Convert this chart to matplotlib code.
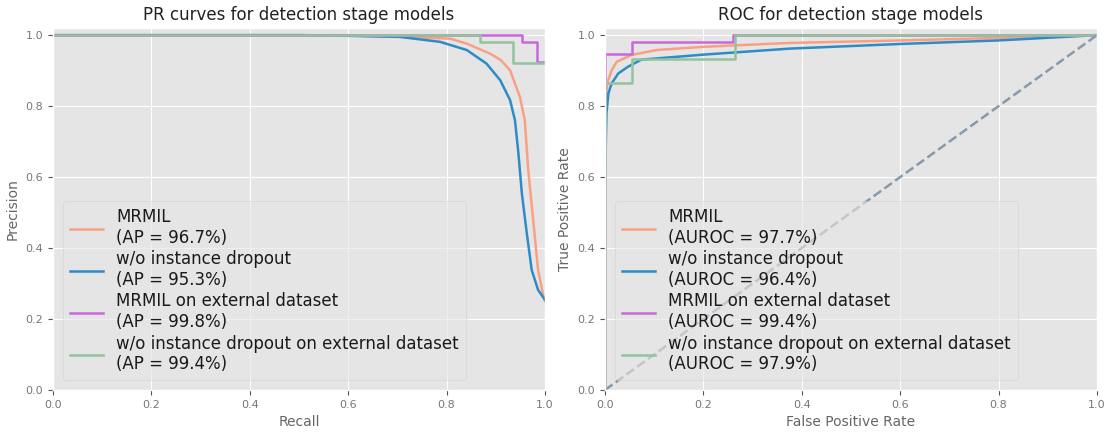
import matplotlib
matplotlib.use('Agg')
import matplotlib.pyplot as plt

# PR curve points (recall, precision)
pr_mrmil_r = [0.0, 0.5, 0.6, 0.7, 0.807, 0.841, 0.888, 0.91, 0.929, 0.949, 0.959, 0.966, 0.976, 0.986, 0.997, 1.0]
pr_mrmil_p = [1.0, 1.0, 0.999, 0.996, 0.99, 0.976, 0.948, 0.93, 0.901, 0.826, 0.76, 0.62, 0.479, 0.338, 0.263, 0.25]
pr_wo_r = [0.0, 0.5, 0.6, 0.705, 0.787, 0.841, 0.881, 0.909, 0.929, 0.939, 0.946, 0.953, 0.963, 0.973, 0.986, 1.0]
pr_wo_p = [1.0, 1.0, 0.998, 0.995, 0.981, 0.958, 0.92, 0.873, 0.817, 0.76, 0.667, 0.554, 0.442, 0.338, 0.282, 0.254]
pr_ext_r = [0.0, 0.953, 0.953, 0.983, 0.983, 1.0]
pr_ext_p = [1.0, 1.0, 0.981, 0.981, 0.925, 0.925]
pr_woext_r = [0.0, 0.868, 0.868, 0.936, 0.936, 1.0]
pr_woext_p = [1.0, 1.0, 0.981, 0.981, 0.921, 0.921]

# ROC curve points (fpr, tpr)
roc_mrmil_f = [0.0, 0.0, 0.002, 0.005, 0.0136, 0.024, 0.054, 0.105, 0.2, 0.376, 0.6, 0.8, 1.0]
roc_mrmil_t = [0.0, 0.7, 0.826, 0.866, 0.901, 0.925, 0.944, 0.958, 0.967, 0.978, 0.985, 0.992, 1.0]
roc_wo_f = [0.0, 0.0, 0.002, 0.003, 0.007, 0.0136, 0.027, 0.047, 0.074, 0.12, 0.2, 0.376, 0.6, 0.8, 1.0]
roc_wo_t = [0.0, 0.545, 0.714, 0.779, 0.836, 0.864, 0.892, 0.911, 0.931, 0.936, 0.945, 0.962, 0.975, 0.985, 1.0]
roc_ext_f = [0.0, 0.0, 0.054, 0.054, 0.261, 0.261, 1.0]
roc_ext_t = [0.0, 0.948, 0.948, 0.981, 0.981, 1.0, 1.0]
roc_woext_f = [0.0, 0.0, 0.054, 0.054, 0.264, 0.264, 1.0]
roc_woext_t = [0.0, 0.866, 0.866, 0.932, 0.932, 1.0, 1.0]

names = ['MRMIL', 'w/o instance dropout', 'MRMIL on external dataset',
         'w/o instance dropout on external dataset']
ap = [96.7, 95.3, 99.8, 99.4]
auroc = [97.7, 96.4, 99.4, 97.9]
colors = ['#F9A083', '#2E8BC6', '#CC66DD', '#93C39E']

plt.style.use('ggplot')
fig = plt.figure(figsize=(11.17, 4.33), dpi=100)
ax1 = fig.add_axes([0.0474, 0.0993, 0.4405, 0.836])
ax2 = fig.add_axes([0.5416, 0.0993, 0.4405, 0.836])

pr = [(pr_mrmil_r, pr_mrmil_p), (pr_wo_r, pr_wo_p), (pr_ext_r, pr_ext_p), (pr_woext_r, pr_woext_p)]
for i in range(4):
    ax1.plot(pr[i][0], pr[i][1], color=colors[i], lw=1.8,
             label='%s\n(AP = %.1f%%)' % (names[i], ap[i]))

roc = [(roc_mrmil_f, roc_mrmil_t), (roc_wo_f, roc_wo_t), (roc_ext_f, roc_ext_t), (roc_woext_f, roc_woext_t)]
for i in range(4):
    ax2.plot(roc[i][0], roc[i][1], color=colors[i], lw=1.8,
             label='%s\n(AUROC = %.1f%%)' % (names[i], auroc[i]))
ax2.plot([0, 1], [0, 1], color='#8899AA', lw=1.8, linestyle='--')

for ax in (ax1, ax2):
    ax.set_xlim(0, 1)
    ax.set_ylim(0, 1.02)
    ax.tick_params(labelsize=8, colors='#555555', labelcolor='#777777')
    leg = ax.legend(loc='lower left', fontsize=12, labelspacing=0.2, borderaxespad=0.6,
                    handletextpad=0.8, framealpha=0.6)
    for t in leg.get_texts():
        t.set_color('#1a1a1a')

ax1.set_title('PR curves for detection stage models', fontsize=12, color='#222222')
ax1.set_xlabel('Recall', fontsize=10, color='#666666')
ax1.set_ylabel('Precision', fontsize=10, color='#666666')
ax2.set_title('ROC for detection stage models', fontsize=12, color='#222222')
ax2.set_xlabel('False Positive Rate', fontsize=10, color='#666666')
ax2.set_ylabel('True Positive Rate', fontsize=10, color='#666666')

fig.savefig('out.png', dpi=100)
